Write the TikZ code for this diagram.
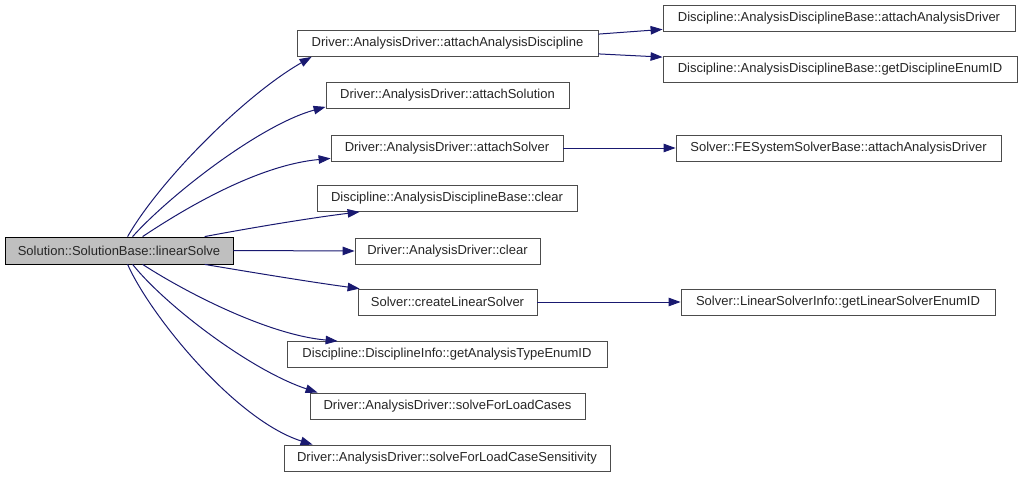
\documentclass[tikz,border=0pt]{standalone}
\usepackage{fontspec}
\setmainfont{Liberation Sans}
\usetikzlibrary{arrows.meta}
\definecolor{edgeblue}{HTML}{191970}
\definecolor{rootfill}{HTML}{BFBFBF}
\begin{document}
\begin{tikzpicture}[x=1pt,y=-1pt,
  box/.style={draw=black!70, line width=0.8pt, fill=white, inner sep=0pt,
    minimum height=26pt, font=\fontsize{13}{15}\selectfont, text=black!85},
  rootbox/.style={box, fill=rootfill, draw=black},
  edge/.style={draw=edgeblue, line width=1pt, -{Triangle[length=12pt,width=8.5pt]}}]
\useasboundingbox (0,0) rectangle (1021,479);
% root
\node[rootbox, minimum width=228pt, minimum height=27pt] (root) at (119,250.5) {Solution::SolutionBase::linearSolve};
% level 1
\node[box, minimum width=301pt] (n1) at (447.5,43.5) {Driver::AnalysisDriver::attachAnalysisDiscipline};
\node[box, minimum width=243pt] (n2) at (447.5,95.5) {Driver::AnalysisDriver::attachSolution};
\node[box, minimum width=232pt] (n3) at (447,148) {Driver::AnalysisDriver::attachSolver};
\node[box, minimum width=260pt] (n4) at (447,198.5) {Discipline::AnalysisDisciplineBase::clear};
\node[box, minimum width=185pt] (n5) at (447.5,251) {Driver::AnalysisDriver::clear};
\node[box, minimum width=179pt] (n6) at (447.5,302) {Solver::createLinearSolver};
\node[box, minimum width=320pt] (n7) at (447,354.5) {Discipline::DisciplineInfo::getAnalysisTypeEnumID};
\node[box, minimum width=275pt] (n8) at (447.5,406) {Driver::AnalysisDriver::solveForLoadCases};
\node[box, minimum width=326pt] (n9) at (447,458) {Driver::AnalysisDriver::solveForLoadCaseSensitivity};
% level 2
\node[box, minimum width=352pt] (d1) at (839,18) {Discipline::AnalysisDisciplineBase::attachAnalysisDriver};
\node[box, minimum width=354pt] (d2) at (840,69.5) {Discipline::AnalysisDisciplineBase::getDisciplineEnumID};
\node[box, minimum width=325pt] (s1) at (838.5,148) {Solver::FESystemSolverBase::attachAnalysisDriver};
\node[box, minimum width=314pt] (s2) at (838,302) {Solver::LinearSolverInfo::getLinearSolverEnumID};
% edges from root
\draw[edge] ([xshift=123pt]root.north west) .. controls (160,180) and (245,95) .. ([xshift=15pt]n1.south west);
\draw[edge] ([xshift=128pt]root.north west) .. controls (170,195) and (260,125) .. ([yshift=2pt]n2.south west);
\draw[edge] ([xshift=138pt]root.north west) .. controls (190,205) and (260,165) .. ([yshift=3pt]n3.south west);
\draw[edge] ([xshift=200pt]root.north west) .. controls (250,228) and (310,218) .. ([xshift=43pt]n4.south west);
\draw[edge] (root.east) -- (n5.west);
\draw[edge] ([xshift=200pt]root.south west) .. controls (250,272) and (310,282) .. ([xshift=2pt]n6.north west);
\draw[edge] ([xshift=138pt]root.south west) .. controls (190,295) and (270,335) .. ([xshift=51pt]n7.north west);
\draw[edge] ([xshift=128pt]root.south west) .. controls (165,305) and (250,370) .. ([xshift=8pt]n8.north west);
\draw[edge] ([xshift=123pt]root.south west) .. controls (150,315) and (235,420) .. ([xshift=29pt]n9.north west);
% level 2 edges
\draw[edge] ([yshift=-4pt]n1.north east) -- ([yshift=2pt]d1.south west);
\draw[edge] ([yshift=3pt]n1.south east) -- ([yshift=-1pt]d2.north west);
\draw[edge] (n3.east) -- (s1.west);
\draw[edge] (n6.east) -- (s2.west);
\end{tikzpicture}
\end{document}
